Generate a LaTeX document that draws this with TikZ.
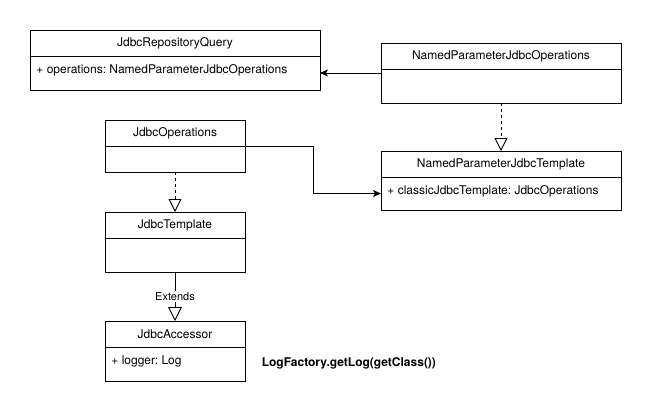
\documentclass[tikz,border=0pt]{standalone}
\usepackage{fontspec}
\setmainfont{TeX Gyre Heros}
\usepackage{tikz}
\usetikzlibrary{arrows.meta,positioning,fit}
\frenchspacing

\begin{document}
\begin{tikzpicture}[x=1pt,y=-1pt,line width=0.9pt,font=\fontsize{12}{14}\selectfont,
	head/.style={draw,anchor=north west,inner sep=0pt,outer sep=0pt,minimum height=26pt,minimum width=#1},
	body/.style={draw,anchor=north west,inner sep=0pt,outer sep=0pt,minimum width=#1},
	attr/.style={anchor=north west,inner xsep=6pt,inner ysep=0pt,minimum height=27pt},
	assoc/.style={-{Stealth[length=8pt,width=7pt,inset=2pt]}},
	realise/.style={dash pattern=on 3pt off 3pt,-{Triangle[fill=white,length=13pt,width=13pt]}},
	extends/.style={-{Triangle[fill=white,length=14pt,width=14pt]}}]
				\useasboundingbox (0,0) rectangle (651,415);
				
				% classes
				\node[head=290pt] (repo-h) at (30,30) {JdbcRepositoryQuery};
				\node[body=290pt,minimum height=34pt] (repo-b) at (repo-h.south west) {};
				\node[attr] (repo-a) at (repo-b.north west) {+ operations: NamedParameterJdbcOperations};
				
				\node[head=240pt] (npjo-h) at (381,43) {NamedParameterJdbcOperations};
				\node[body=240pt,minimum height=34pt] (npjo-b) at (npjo-h.south west) {};
				\node[fit=(npjo-h)(npjo-b),inner sep=0pt,outer sep=0pt] (npjo) {};
				
				\node[head=240pt] (npjt-h) at (381,151) {NamedParameterJdbcTemplate};
				\node[body=240pt,minimum height=33pt] (npjt-b) at (npjt-h.south west) {};
				\node[attr] (npjt-a) at (npjt-b.north west) {+ classicJdbcTemplate: JdbcOperations};
				
				\node[head=140pt] (jops-h) at (105,120) {JdbcOperations};
				\node[body=140pt,minimum height=26pt] (jops-b) at (jops-h.south west) {};
				
				\node[head=140pt] (jtpl-h) at (105,212) {JdbcTemplate};
				\node[body=140pt,minimum height=34pt] (jtpl-b) at (jtpl-h.south west) {};
				
				\node[head=140pt] (jacc-h) at (105,321) {JdbcAccessor};
				\node[body=140pt,minimum height=34pt] (jacc-b) at (jacc-h.south west) {};
				\node[attr] (jacc-a) at (jacc-b.north west) {+ logger: Log};
				
				\node[anchor=west,font=\bfseries\fontsize{12}{14}\selectfont] (logf) at (258,363) {LogFactory.getLog(getClass())};
				
				% relations
				\draw[assoc] (npjo.west) -- (npjo.west -| repo-b.east);
				\draw[assoc] (jops-h.south east) -- ++(68,0) |- (npjt-b.west);
				\draw[realise] (npjo-b.south) -- (npjt-h.north);
				\draw[realise] (jops-b.south) -- (jtpl-h.north);
				\draw[extends] (jtpl-b.south) -- node[fill=white,inner sep=1pt,font=\fontsize{11}{13}\selectfont] (ext) {Extends} (jacc-h.north);
			\end{tikzpicture}
\end{document}
